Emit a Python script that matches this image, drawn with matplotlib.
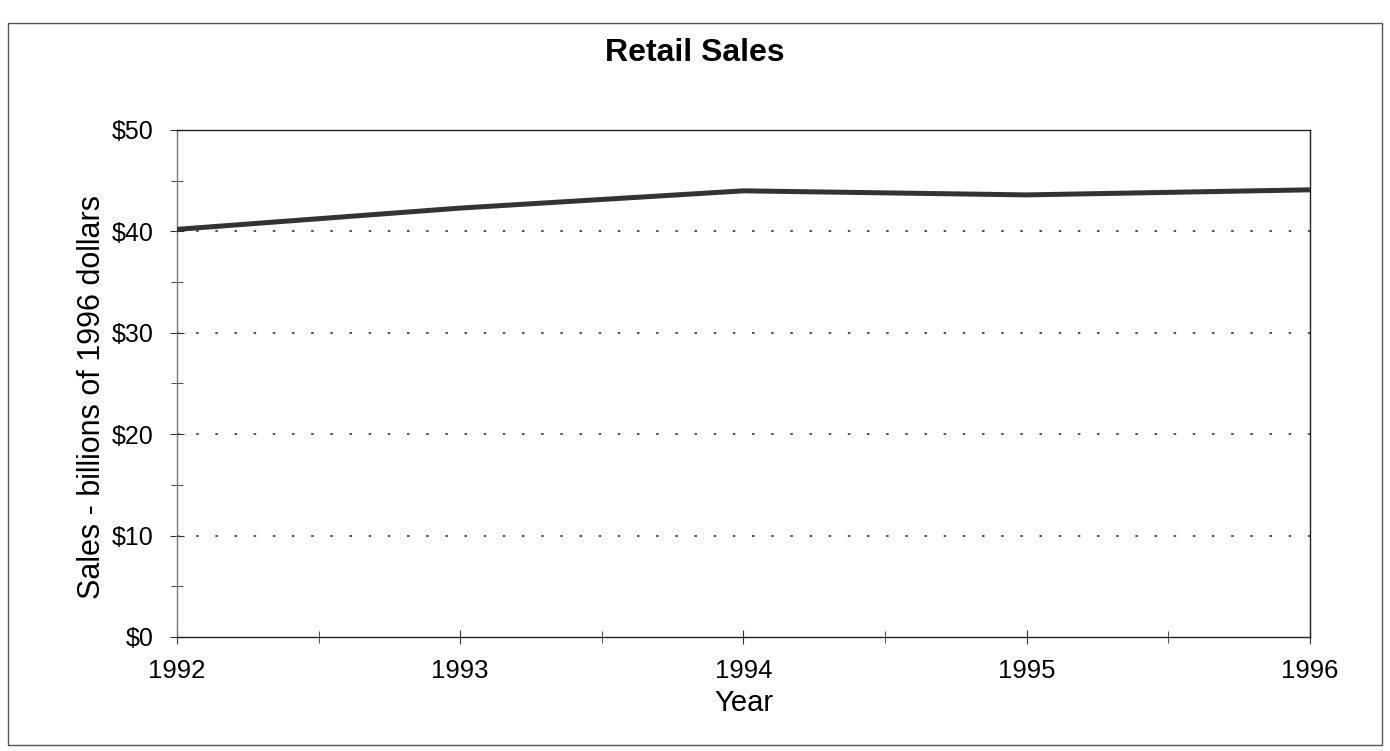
import matplotlib.pyplot as plt
from matplotlib.patches import Rectangle
from matplotlib.ticker import MultipleLocator, FuncFormatter

plt.rcParams['font.family'] = ['Liberation Sans', 'DejaVu Sans']

years = [1992, 1993, 1994, 1995, 1996]
sales = [40.2, 42.3, 44.0, 43.6, 44.1]

fig = plt.figure(figsize=(13.9, 7.51), dpi=100)
ax = fig.add_axes([0.1273, 0.1518, 0.8151, 0.6751])

# outer frame of the chart
fig.patches.append(Rectangle((0.006, 0.008), 0.988, 0.962, transform=fig.transFigure,
                             fill=False, edgecolor='#555555', linewidth=1.0))

ax.plot(years, sales, color='#333333', linewidth=3.6, solid_capstyle='butt', zorder=3)

ax.set_xlim(1992, 1996)
ax.set_ylim(0, 50)
ax.xaxis.set_major_locator(MultipleLocator(1))
ax.xaxis.set_minor_locator(MultipleLocator(0.5))
ax.yaxis.set_major_locator(MultipleLocator(10))
ax.yaxis.set_minor_locator(MultipleLocator(5))
ax.yaxis.set_major_formatter(FuncFormatter(lambda v, p: '${:.0f}'.format(v)))

for y in [10, 20, 30, 40]:
    ax.axhline(y, color='#333333', linestyle=(0, (1.5, 10)), linewidth=1.2, zorder=1)

for s in ax.spines.values():
    s.set_color('#222222')
    s.set_linewidth(1.0)
ax.spines['left'].set_color('#777777')

ax.tick_params(axis='both', which='both', direction='inout', color='#333333')
ax.tick_params(axis='x', which='major', length=10, labelsize=18.5, pad=11)
ax.tick_params(axis='y', which='major', length=10, labelsize=18, pad=12)
ax.tick_params(axis='both', which='minor', length=8)

# title is centred on the page, not on the plot area
fig.suptitle('Retail Sales', fontsize=23, fontweight='bold', x=0.5, y=0.95)
ax.set_xlabel('Year', fontsize=21, labelpad=4)
ax.set_ylabel('Sales - billions of 1996 dollars', fontsize=22, labelpad=3)
ax.yaxis.label.set_y(0.473)

fig.savefig('out.png', dpi=100)
